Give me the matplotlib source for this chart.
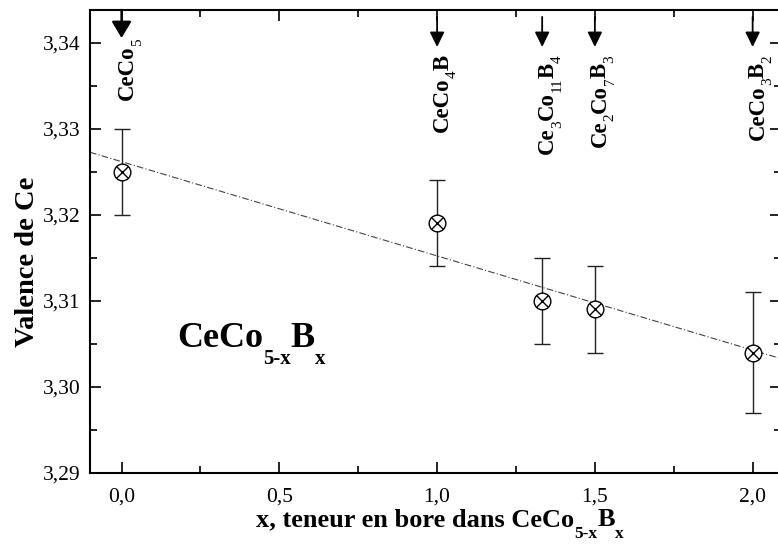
import re
import numpy as np
import matplotlib
matplotlib.use('Agg')
from matplotlib import pyplot as plt
from matplotlib.ticker import MultipleLocator, FuncFormatter
from matplotlib.transforms import offset_copy

# measured valence of Ce in CeCo(5-x)B(x)
x_bore = [0.0, 1.0, 1.333, 1.5, 2.0]
valence = [3.325, 3.319, 3.310, 3.309, 3.304]
erreur = [0.005, 0.005, 0.005, 0.005, 0.007]

# compounds marked by arrows at the top
composes_x = [0.0, 1.0, 1.333, 1.5, 2.0]
composes = ['CeCo_{5}', 'CeCo_{4}B', 'Ce_{3}Co_{11}B_{4}', 'Ce_{2}Co_{7}B_{3}', 'CeCo_{3}B_{2}']

famille = 'CeCo_{5-x}B_{x}'
xlabel_txt = 'x, teneur en bore dans ' + famille
ylabel_txt = 'Valence de Ce'

plt.rcParams['font.family'] = 'serif'
plt.rcParams['font.serif'] = ['Liberation Serif', 'DejaVu Serif']

fig = plt.figure(figsize=(7.78, 5.45), dpi=100)
ax = fig.add_axes([0.1157, 0.1321, 0.8882, 0.8496])


def morceaux(formule, fs, fs_sub, drop, poids_sub='bold'):
    """split 'CeCo_{5}' into (text, size, weight, drop) pieces"""
    parts = re.split(r'_\{([^}]*)\}', formule)
    out = []
    for i, p in enumerate(parts):
        if not p:
            continue
        if i % 2:
            out.append((p, fs_sub, poids_sub, drop))
        else:
            out.append((p, fs, 'bold', 0))
    return out


def ecrire(x, y, pieces, transform, angle=0, fin=False, dx0=0, dy0=0):
    """draw text pieces one after the other along the reading direction"""
    rend = fig.canvas.get_renderer()
    larg = []
    for txt, fs, poids, bas in pieces:
        t = ax.text(0, 0, txt, fontsize=fs, fontweight=poids)
        larg.append(t.get_window_extent(rend).width * 72 / fig.dpi)
        t.remove()
    pos = -sum(larg) if fin else 0
    ca, sa = np.cos(np.radians(angle)), np.sin(np.radians(angle))
    for (txt, fs, poids, bas), w in zip(pieces, larg):
        ox = dx0 + pos * ca + bas * sa
        oy = dy0 + pos * sa - bas * ca
        ax.text(x, y, txt, transform=offset_copy(transform, fig=fig, x=ox, y=oy, units='points'),
                fontsize=fs, fontweight=poids, rotation=angle, rotation_mode='anchor',
                ha='left', va='baseline', clip_on=False)
        pos += w


x_min, x_max = -0.1, 2.09
ax.set_xlim(x_min, x_max)
ax.set_ylim(3.29, 3.3438)

# linear fit through the points
a, b = np.polyfit(x_bore, valence, 1)
xs = np.array([x_min, x_max])
ax.plot(xs, a * xs + b, color='#444444', linewidth=0.8, dashes=(6, 2, 1, 2))

# error bars and circle-cross markers
ax.errorbar(x_bore, valence, yerr=erreur, fmt='none', ecolor='#222222',
            elinewidth=1.0, capsize=5.5, capthick=1.0)
ax.plot(x_bore, valence, 'o', markersize=12, markerfacecolor='white',
        markeredgecolor='black', markeredgewidth=1.0, zorder=5)
ax.plot(x_bore, valence, 'x', markersize=8.5, markeredgecolor='black',
        markeredgewidth=1.0, zorder=6)

# arrows + compound names
xtr = ax.get_xaxis_transform()
for i, (xc, nom) in enumerate(zip(composes_x, composes)):
    big = (i == 0)
    ax.annotate('', xy=(xc, 0.9395 if big else 0.920), xycoords=xtr,
                xytext=(xc, 1.0 if big else 0.985), textcoords=xtr,
                arrowprops=dict(arrowstyle='-|>,head_length=%s,head_width=%s' %
                                ((0.5, 0.3) if big else (0.45, 0.22)),
                                color='black', lw=1.7 if big else 1.3,
                                mutation_scale=20, shrinkA=0, shrinkB=0))
    ecrire(xc, 0.9395 if big else 0.903, morceaux(nom, 16.5, 11, 5.5, 'normal'), xtr,
           angle=90, fin=True, dx0=8.5 if big else 8)

# compound family label
ecrire(0.1259, 0.2721, morceaux(famille, 26, 15, 12), ax.transAxes)

# axis labels
ecrire(256 / 778, 19 / 545, morceaux(xlabel_txt, 19, 12.5, 8.5), fig.transFigure)
ax.text(-0.073, 0.456, ylabel_txt, transform=ax.transAxes, rotation=90,
        fontsize=20.5, fontweight='bold', ha='right', va='center')

ax.xaxis.set_major_locator(MultipleLocator(0.5))
ax.xaxis.set_minor_locator(MultipleLocator(0.25))
ax.yaxis.set_major_locator(MultipleLocator(0.01))
ax.yaxis.set_minor_locator(MultipleLocator(0.005))
ax.xaxis.set_major_formatter(FuncFormatter(lambda v, p: ('%.1f' % v).replace('.', ',')))
ax.yaxis.set_major_formatter(FuncFormatter(lambda v, p: ('%.2f' % v).replace('.', ',')))

ax.tick_params(which='both', direction='in', top=True, right=True, labelsize=15.5, width=1.2)
ax.tick_params(which='major', length=8)
ax.tick_params(which='minor', length=5)
ax.tick_params(axis='x', which='major', pad=10.5)
ax.tick_params(axis='y', which='major', pad=7)

for s in ax.spines.values():
    s.set_linewidth(1.5)

fig.savefig('out.png', dpi=100)
